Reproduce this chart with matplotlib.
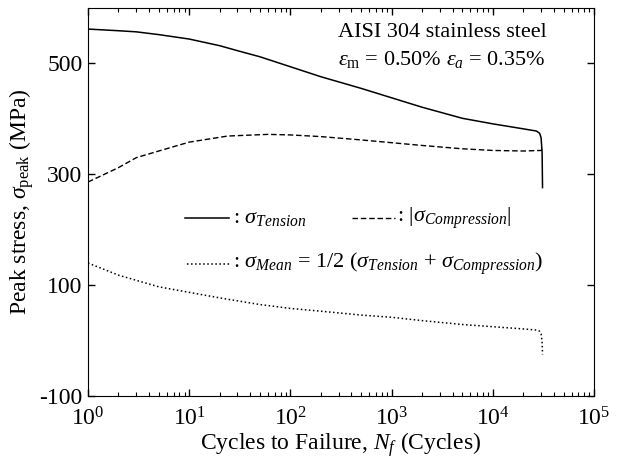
import matplotlib
matplotlib.use("Agg")
import matplotlib.pyplot as plt
import matplotlib.ticker as ticker

plt.rcParams['font.family'] = 'Liberation Serif'
plt.rcParams['mathtext.fontset'] = 'custom'
plt.rcParams['mathtext.rm'] = 'Liberation Serif'
plt.rcParams['mathtext.it'] = 'Liberation Serif:italic'
plt.rcParams['axes.unicode_minus'] = False

# peak stress history (MPa) vs cycle number
cycles = [1, 2, 3, 5, 10, 20, 30, 50, 100, 200, 500, 1000, 2000, 5000, 10000,
          20000, 27000, 29000, 30000, 30700, 31000]
tension = [562, 559, 557, 552, 544, 532, 523, 512, 494, 476, 455, 438, 421, 401, 391,
           382, 378, 374, 366, 340, 276]

cycles_c = [1, 2, 3, 5, 10, 24, 60, 100, 200, 500, 1000, 2000, 5000, 10000, 20000,
            30000, 30700]
compression = [286, 312, 330, 342, 358, 369, 372, 371, 368, 362, 357, 352, 346, 343, 342,
               343, 345]

cycles_m = [1, 2, 5, 10, 20, 50, 100, 200, 500, 1000, 2000, 5000, 10000, 20000,
            27000, 29000, 30000, 30700, 31000]
mean = [140, 118, 97, 87, 77, 65, 58, 53, 46, 42, 36, 29, 25, 21, 19, 17, 12, -2, -25]

fig = plt.figure(figsize=(6.23, 4.62), dpi=100)
ax = fig.add_axes([88/623, 66/462, 506/623, 388/462])

ax.plot(cycles, tension, 'k-', lw=1.1)
ax.plot(cycles_c, compression, 'k--', lw=1.0, dashes=(4, 2))
ax.plot(cycles_m, mean, 'k:', lw=1.1)

ax.set_xscale('log')
ax.set_xlim(1, 1e5)
ax.set_ylim(-100, 600)
ax.set_yticks([-100, 100, 300, 500])
ax.xaxis.set_major_locator(ticker.LogLocator(base=10, numticks=10))
ax.xaxis.set_minor_locator(ticker.LogLocator(base=10, subs=range(2, 10), numticks=10))
ax.xaxis.set_minor_formatter(ticker.NullFormatter())
ax.tick_params(which='both', direction='in', top=True, right=True, labelsize=17)
ax.tick_params(which='major', length=5, width=1)
ax.tick_params(which='minor', length=3, width=0.8)
ax.tick_params(axis='x', pad=8)
ax.tick_params(axis='y', pad=4)

ax.set_xlabel('Cycles to Failure, $N_f$ (Cycles)', fontsize=17, labelpad=0)
ax.set_ylabel(r'Peak stress, $\sigma_{\rm peak}$ (MPa)', fontsize=17, labelpad=2)

# text legend inside the axes
ax.plot([9.1, 25], [221, 221], 'k-', lw=1.1)
ax.text(27, 221, r': $\sigma_{Tension}$', fontsize=16, va='center')
ax.plot([410, 1080], [221, 221], 'k--', lw=1.0, dashes=(4, 2))
ax.text(1120, 221, r': $|\sigma_{Compression}|$', fontsize=16, va='center')
ax.plot([9.5, 26], [138, 138], 'k:', lw=1.1)
ax.text(27, 138, r': $\sigma_{Mean}$ = 1/2 ($\sigma_{Tension}$ + $\sigma_{Compression}$)', fontsize=16, va='center')

ax.text(0.70, 0.938, 'AISI 304 stainless steel', transform=ax.transAxes, fontsize=16, ha='center', va='center')
ax.text(0.70, 0.866, r'$\varepsilon_{\rm m}$ = 0.50% $\varepsilon_a$ = 0.35%', transform=ax.transAxes, fontsize=16, ha='center', va='center')

fig.savefig('out.png', dpi=100)
